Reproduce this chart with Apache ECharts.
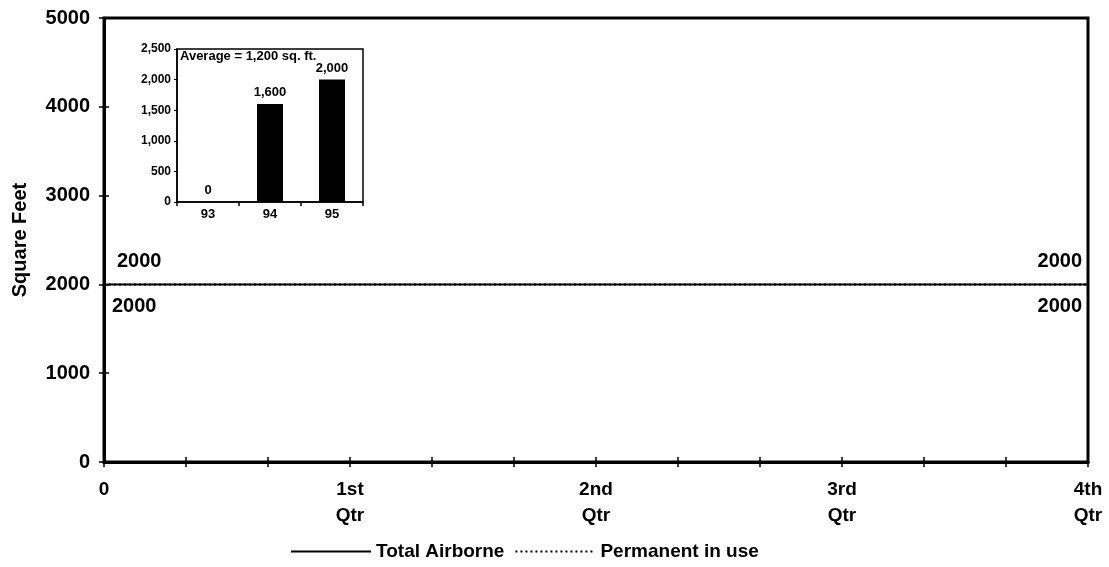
<!DOCTYPE html>
<html>
<head>
<meta charset="utf-8">
<script src="https://cdn.jsdelivr.net/npm/echarts@6/dist/echarts.min.js"></script>
<style>
html,body{margin:0;padding:0;background:#fff;}
#chart{width:1109px;height:567px;}
</style>
</head>
<body>
<div id="chart"></div>
<script>
// ---- data ----
const monthPositions = [0, 3, 6, 9, 12];
const quarterLabels = ['0', '1st\nQtr', '2nd\nQtr', '3rd\nQtr', '4th\nQtr'];
const totalAirborne = [2000, 2000, 2000, 2000, 2000];
const permanentInUse = [2000, 2000, 2000, 2000, 2000];
const insetYears = ['93', '94', '95'];
const insetValues = [0, 1600, 2000];
const insetTitle = 'Average = 1,200 sq. ft.';
const seriesNames = ['Total Airborne', 'Permanent in use'];
const yTitle = 'Square Feet';

const FONT = 'Liberation Sans, Arial, sans-serif';

// end-point value labels (first and last point of each series)
function endLabels(values, above) {
  const last = values.length - 1;
  return [0, last].map(i => ({
    value: [monthPositions[i], values[i]],
    label: {
      position: above ? 'top' : 'bottom',
      align: i === 0 ? 'left' : 'right',
      offset: [i === 0 ? (above ? 13 : 8) : -6, above ? -8 : 7]
    }
  }));
}

const chart = echarts.init(document.getElementById('chart'));
const option = {
  animation: false,
  backgroundColor: '#fff',
  textStyle: { fontFamily: FONT, color: '#000' },
  legend: {
    bottom: 1,
    left: 285,
    itemWidth: 80,
    itemHeight: 10,
    itemGap: 10,
    itemStyle: { opacity: 0 },
    textStyle: { fontFamily: FONT, fontSize: 19, fontWeight: 'bold', color: '#000' },
    data: seriesNames
  },
  grid: [
    { left: 104, right: 21, top: 18, bottom: 105, show: true, borderColor: '#000', borderWidth: 3, containLabel: false },
    { left: 177, top: 49, width: 186, height: 153, show: true, borderColor: '#000', borderWidth: 1.5, containLabel: false, z: 5 }
  ],
  xAxis: [
    {
      gridIndex: 0, type: 'value', min: 0, max: 12, interval: 1,
      axisLine: { lineStyle: { color: '#000', width: 3 } },
      axisTick: { show: true, length: 5, lineStyle: { color: '#000', width: 1.5 } },
      splitLine: { show: false },
      axisLabel: {
        color: '#000', fontFamily: FONT, fontSize: 19, fontWeight: 'bold', lineHeight: 26, margin: 15,
        formatter: v => (v % 3 === 0 ? quarterLabels[v / 3] : '')
      }
    },
    {
      gridIndex: 0, type: 'value', min: 0, max: 12, interval: 1, position: 'bottom',
      axisLine: { show: false },
      axisTick: { show: true, inside: true, length: 5, lineStyle: { color: '#000', width: 1.5 } },
      axisLabel: { show: false }, splitLine: { show: false }
    },
    {
      gridIndex: 1, type: 'category', data: insetYears, boundaryGap: true,
      axisLine: { lineStyle: { color: '#000', width: 1.5 } },
      axisTick: { show: true, length: 4, lineStyle: { color: '#000', width: 1.5 } },
      axisLabel: { color: '#000', fontFamily: FONT, fontSize: 13, fontWeight: 'bold', margin: 6 }
    }
  ],
  yAxis: [
    {
      gridIndex: 0, type: 'value', min: 0, max: 5000, interval: 1000,
      name: yTitle, nameLocation: 'middle', nameGap: 74, nameRotate: 90,
      nameTextStyle: { fontFamily: FONT, fontSize: 20, fontWeight: 'bold', color: '#000' },
      axisLine: { show: true, lineStyle: { color: '#000', width: 3 } },
      axisTick: { show: true, length: 5, lineStyle: { color: '#000', width: 1.5 } },
      splitLine: { show: false },
      axisLabel: { color: '#000', fontFamily: FONT, fontSize: 20, fontWeight: 'bold', margin: 14, formatter: v => String(v) }
    },
    {
      gridIndex: 0, type: 'value', min: 0, max: 5000, interval: 1000, position: 'left',
      axisLine: { show: false },
      axisTick: { show: true, inside: true, length: 5, lineStyle: { color: '#000', width: 1.5 } },
      axisLabel: { show: false }, splitLine: { show: false }
    },
    {
      gridIndex: 1, type: 'value', min: 0, max: 2500, interval: 500,
      axisLine: { show: true, lineStyle: { color: '#000', width: 1.5 } },
      axisTick: { show: true, length: 3, lineStyle: { color: '#000', width: 1 } },
      splitLine: { show: false },
      axisLabel: {
        color: '#000', fontFamily: FONT, fontSize: 12, fontWeight: 'bold', margin: 6,
        formatter: v => v.toLocaleString('en-US')
      }
    }
  ],
  series: [
    {
      name: seriesNames[0], type: 'line', xAxisIndex: 0, yAxisIndex: 0,
      data: monthPositions.map((m, i) => [m, totalAirborne[i]]),
      symbol: 'none', showSymbol: false,
      lineStyle: { color: '#000', width: 2, type: 'solid' },
      itemStyle: { color: '#000' },
      z: 3
    },
    {
      name: seriesNames[1], type: 'line', xAxisIndex: 0, yAxisIndex: 0,
      data: monthPositions.map((m, i) => [m, permanentInUse[i]]),
      symbol: 'none', showSymbol: false,
      lineStyle: { color: '#000', width: 2, type: [2, 3] },
      itemStyle: { color: '#000' },
      z: 4
    },
    {
      name: 'labels-total', type: 'scatter', xAxisIndex: 0, yAxisIndex: 0,
      data: endLabels(totalAirborne, true), symbolSize: 0, silent: true,
      itemStyle: { color: '#000', opacity: 1 },
      label: { show: true, color: '#000', fontFamily: FONT, fontSize: 20, fontWeight: 'bold', formatter: p => p.value[1] },
      z: 5
    },
    {
      name: 'labels-permanent', type: 'scatter', xAxisIndex: 0, yAxisIndex: 0,
      data: endLabels(permanentInUse, false), symbolSize: 0, silent: true,
      itemStyle: { color: '#000', opacity: 1 },
      label: { show: true, color: '#000', fontFamily: FONT, fontSize: 20, fontWeight: 'bold', formatter: p => p.value[1] },
      z: 5
    },
    {
      name: 'inset', type: 'bar', xAxisIndex: 2, yAxisIndex: 2,
      data: insetValues, barWidth: 26,
      itemStyle: { color: '#000' },
      label: {
        show: true, position: 'top', distance: 5, color: '#000', fontFamily: FONT,
        fontSize: 13, fontWeight: 'bold', formatter: p => p.value.toLocaleString('en-US')
      },
      z: 6
    }
  ],
  graphic: [
    {
      type: 'text', left: 180, top: 50, z: 10,
      style: { text: insetTitle, font: 'bold 13px ' + FONT, fill: '#000' }
    }
  ]
};
chart.setOption(option);
</script>
</body>
</html>
